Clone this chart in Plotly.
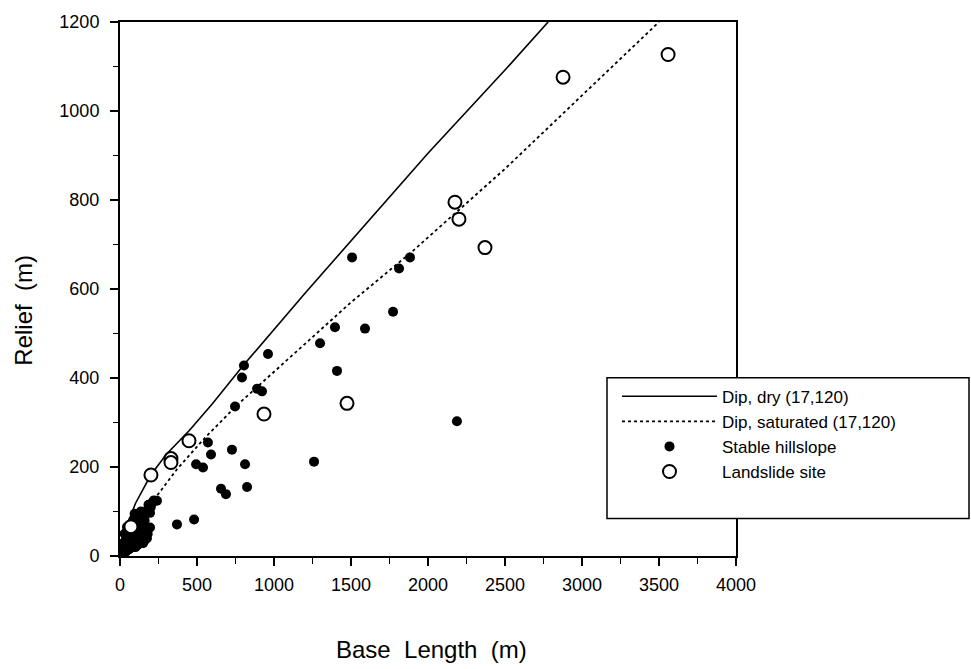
import plotly.graph_objects as go

# Reference curves
dry_x = [0, 50, 100, 200, 300, 450, 600, 800, 1200, 1530, 2000, 2500, 2780]
dry_y = [0, 72, 118, 182, 228, 282, 342, 428, 590, 720, 905, 1092, 1200]

sat_x = [0, 60, 150, 250, 370, 550, 760, 1100, 1500, 1900, 2500, 3000, 3500]
sat_y = [0, 50, 100, 140, 195, 265, 339, 445, 570, 685, 870, 1035, 1200]

# Stable hillslope (filled dots)
stable_x = [1507, 1883, 1812, 1773, 1396, 1591, 1299, 1409, 2188, 1260,
            961, 805, 792, 890, 922, 747, 571, 591, 727, 494, 539, 812,
            656, 688, 825, 370, 481, 240, 195, 195, 149,
            10, 20, 25, 35, 40, 50, 55, 60, 70, 75, 85, 90, 100, 105, 110,
            120, 125, 135, 140, 150, 155, 160, 175, 175, 185, 200, 210, 220,
            30, 45, 65, 15, 95, 130, 165, 5, 20, 40, 60, 80, 100, 115, 140,
            160, 180, 50, 70, 90, 110, 125, 145]
stable_y = [671, 671, 646, 549, 514, 511, 478, 416, 303, 212,
            454, 428, 401, 376, 370, 336, 255, 228, 239, 206, 199, 206,
            151, 139, 155, 71, 82, 124, 97, 64, 95,
            8, 15, 30, 20, 40, 30, 50, 25, 40, 60, 80, 45, 30, 55, 91,
            70, 40, 100, 60, 29, 45, 80, 102, 40, 115, 110, 120, 125,
            50, 65, 70, 25, 95, 35, 55, 20, 5, 10, 15, 20, 20, 25, 30,
            35, 50, 18, 30, 65, 35, 85, 75]

# Landslide sites (open circles)
slide_x = [71, 201, 331, 331, 448, 935, 1474, 2175, 2201, 2370, 2877, 3559]
slide_y = [66, 182, 219, 210, 259, 319, 343, 795, 757, 693, 1076, 1127]

x_ticks = [0, 500, 1000, 1500, 2000, 2500, 3000, 3500, 4000]
y_ticks = [0, 200, 400, 600, 800, 1000, 1200]

FONT = "Liberation Sans, Arial, sans-serif"

fig = go.Figure()
fig.add_trace(go.Scatter(x=dry_x, y=dry_y, mode="lines", name="Dip, dry (17,120)",
                         line=dict(color="black", width=1.6), legendgroup="a"))
fig.add_trace(go.Scatter(x=sat_x, y=sat_y, mode="lines", name="Dip, saturated (17,120)",
                         line=dict(color="black", width=1.8, dash="dot"), legendgroup="b"))
fig.add_trace(go.Scatter(x=stable_x, y=stable_y, mode="markers", name="Stable hillslope",
                         marker=dict(symbol="circle", size=10, color="black",
                                     line=dict(width=0)), legendgroup="c"))
fig.add_trace(go.Scatter(x=slide_x, y=slide_y, mode="markers", name="Landslide site",
                         marker=dict(symbol="circle", size=13, color="white",
                                     line=dict(color="black", width=2)), legendgroup="d"))

axis_common = dict(
    showline=True, linecolor="black", linewidth=2, mirror=True,
    ticks="outside", ticklen=8, tickwidth=1.5, tickcolor="black",
    showgrid=False, zeroline=False,
    tickfont=dict(family=FONT, size=18, color="black"),
)

fig.update_xaxes(range=[0, 4000], tickvals=x_ticks, ticklabelstandoff=3,
                 minor=dict(dtick=250, ticks="outside", ticklen=6, tickcolor="black", tickwidth=1.2),
                 **axis_common)
fig.update_yaxes(range=[0, 1200], tickvals=y_ticks, ticklabelstandoff=7,
                 minor=dict(dtick=100, ticks="outside", ticklen=5, tickcolor="black", tickwidth=1.2),
                 **axis_common)

W, H = 971, 669
L, R, T, B = 120, 235, 14, 113
pw, ph = W - L - R, H - T - B

def px(xp):
    return (xp - L) / pw

def py(yp):
    return (H - B - yp) / ph

fig.update_layout(
    width=W, height=H,
    margin=dict(l=L, r=R, t=T, b=B),
    paper_bgcolor="white", plot_bgcolor="white",
    font=dict(family=FONT, color="black"),
    showlegend=True,
    legend=dict(
        x=px(617), y=py(376), xanchor="left", yanchor="top",
        bgcolor="rgba(0,0,0,0)", borderwidth=0,
        font=dict(family=FONT, size=17, color="black"),
        itemwidth=95, traceorder="grouped", tracegroupgap=0,
    ),
    shapes=[dict(type="rect", xref="paper", yref="paper",
                 x0=px(607), x1=px(969), y0=py(518), y1=py(375),
                 line=dict(color="black", width=1.5), fillcolor="white", layer="above")],
    annotations=[
        dict(text="Base  Length  (m)", xref="paper", yref="paper",
             x=px(432), y=py(651), xanchor="center", yanchor="middle", showarrow=False,
             font=dict(family=FONT, size=24, color="black")),
        dict(text="Relief  (m)", xref="paper", yref="paper",
             x=px(24), y=py(307), xanchor="center", yanchor="middle", showarrow=False,
             textangle=-90, font=dict(family=FONT, size=24, color="black")),
    ],
)

fig.write_html("out.html")
